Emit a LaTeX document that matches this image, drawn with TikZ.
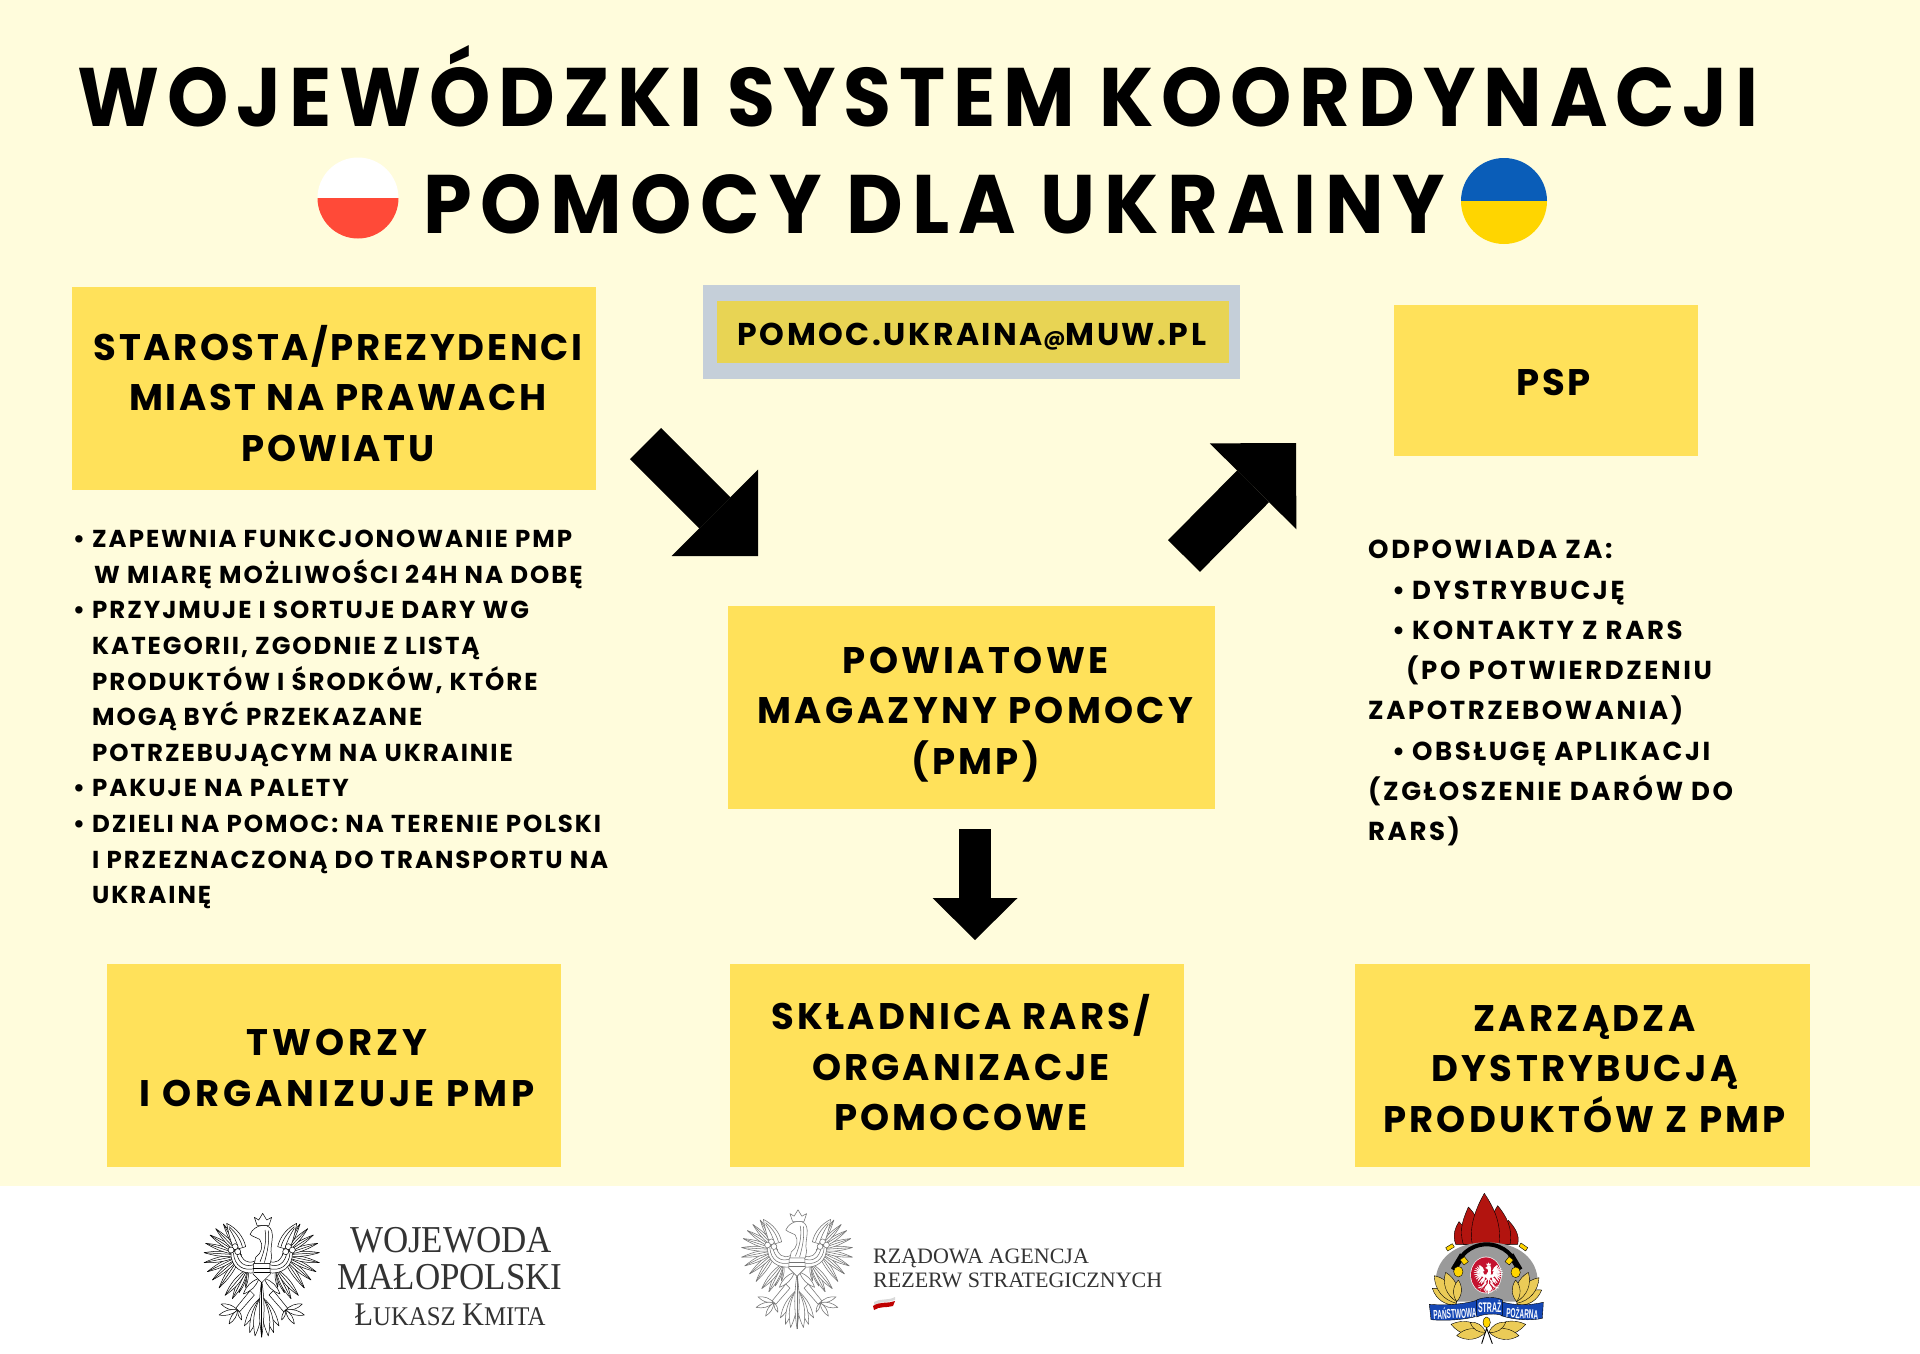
\documentclass[tikz,border=0pt]{standalone}
\usepackage{fontspec}
\usetikzlibrary{arrows.meta,calc}
\setmainfont{Poppins}
\newfontfamily\hdfont{Poppins}[LetterSpace=7]
\newfontfamily\ttlfont{Poppins}[FakeStretch=0.94]
\newfontfamily\serifcaps{Liberation Serif}[FakeStretch=0.92]
\newfontfamily\rarsfont{Liberation Serif}
\newfontfamily\ribbonfont{Liberation Sans}[FakeStretch=0.5]
\definecolor{paper}{HTML}{FFFCDC}
\definecolor{boxyellow}{HTML}{FFE15A}
\definecolor{mailyellow}{HTML}{E8D454}
\definecolor{mailgrey}{HTML}{C5CFD9}
\definecolor{flagred}{HTML}{FF4A38}
\definecolor{flagblue}{HTML}{0A5DB8}
\definecolor{flagyellow}{HTML}{FFD500}
\definecolor{leaf}{HTML}{EBCB57}
\definecolor{helmet}{HTML}{9A9A9A}
\definecolor{flame}{HTML}{B2140F}
\definecolor{ribbon}{HTML}{1547B5}
\definecolor{shield}{HTML}{C4122F}
\newcommand\eagleart[2]{%
 \begin{scope}[line width=#2,draw=#1,fill=white,line join=round]
  \foreach \sgn in {1,-1}{%
   \begin{scope}[xscale=\sgn]
    \foreach \tx/\ty in {-48/262,-68/278,-88/296,-110/286}{%
      \filldraw (-42,205) to[bend left=16] (\tx,\ty) to[bend left=16] (-42,205);
      \draw (-42,205) -- (\tx,\ty);}
    \foreach \tx/\ty in {-128/264,-148/240,-163/215,-173/188,-173/158,-168/130,-155/105,-138/86,-115/72}{%
      \filldraw (-62,165) to[bend left=13] (\tx,\ty) to[bend left=13] (-62,165);
      \draw (-62,165) -- (\tx,\ty);}
    \filldraw (-48,140) .. controls (-55,110) and (-75,85) .. (-105,70) .. controls (-100,100) and (-92,130) .. (-82,150) -- cycle;
    \draw (-58,140) .. controls (-65,115) and (-80,95) .. (-98,80);
    \draw (-70,145) .. controls (-75,125) and (-85,105) .. (-98,85);
    % sash
    \filldraw (-18,182) .. controls (-45,195) and (-58,180) .. (-68,152) -- (-92,156) .. controls (-95,200) and (-60,225) .. (-18,218) -- cycle;
    \draw (-18,192) .. controls (-50,205) and (-70,190) .. (-76,156);
    \draw (-18,205) .. controls (-55,215) and (-82,198) .. (-85,158);
    \filldraw (-80,140) circle[radius=9];
    \filldraw (-92,150) circle[radius=9];
    \filldraw (-72,155) circle[radius=9];
    % thigh and leg
    \filldraw (-8,235) to[bend left=25] (-55,282) to[bend left=25] (-8,235);
    \filldraw (-35,272) -- (-78,325) -- (-66,335) -- (-22,285) -- cycle;
    % talons
    \foreach \tx/\ty in {-122/312,-128/345,-98/372,-60/360}{%
      \filldraw (-72,330) to[bend left=25] (\tx,\ty) to[bend left=25] (-72,330);}
    % tail
    \foreach \tx/\ty in {-52/378,-36/398,-20/408}{%
      \filldraw (-6,295) to[bend left=18] (\tx,\ty) to[bend left=18] (-6,295);}
   \end{scope}}
  \filldraw (0,240) to[bend left=8] (0,412) to[bend left=8] (0,240);
  \draw (0,240) -- (0,412);
  % chest
  \filldraw (-24,190) -- (24,190) -- (26,222) -- (0,248) -- (-26,222) -- cycle;
  \draw (-25,205) -- (25,205) (-24,218) -- (24,218);
  % head and neck
  \filldraw (-35,103) .. controls (-28,88) and (-15,78) .. (2,76) .. controls (20,74) and (32,85) .. (32,105) .. controls (32,130) and (24,150) .. (30,170) -- (26,190) -- (-22,190) -- (-18,172) .. controls (0,160) and (6,135) .. (-6,118) .. controls (-14,112) and (-25,112) .. (-35,103) -- cycle;
  \draw (10,90) .. controls (16,120) and (8,155) .. (-5,185);
  \draw (20,92) .. controls (24,125) and (16,160) .. (8,188);
  % crown
  \filldraw (-14,76) -- (-22,52) -- (-9,60) -- (3,40) -- (15,60) -- (30,52) -- (22,76) -- cycle;
 \end{scope}}
\tikzset{
  boxfill/.style={fill=boxyellow,inner sep=0pt},
  boxtext/.style={align=center,inner sep=0pt,font=\hdfont\bfseries\fontsize{37}{50.5}\selectfont\addfontfeatures{LetterSpace=#1}},
  boxtext/.default=7,
  titlefont/.style={inner sep=0pt,anchor=base,font=\ttlfont\bfseries\fontsize{83}{90}\selectfont\addfontfeatures{LetterSpace=#1}},
  bodytext/.style={inner sep=0pt,anchor=north west,align=left},
  serifline/.style={inner sep=0pt,anchor=base,text=black!80},
  blockarrow/.style={draw=black,-{Triangle[length=#1,width=122pt,line width=0pt]}},
  ribbontext/.style={inner sep=0pt,text=white,font=\ribbonfont\bfseries\fontsize{13}{14}\selectfont},
  logoline/.style={draw=black,line width=.4pt,line join=round},
}
\newcommand\dotitem{\llap{\textbullet\kern7pt}}
\begin{document}
\begin{tikzpicture}[x=1pt,y=-1pt]
\useasboundingbox (0,0) rectangle (1920,1354);
\fill[paper] (0,0) rectangle (1920,1186);
\fill[white] (0,1186) rectangle (1920,1354);

% title
\node[titlefont=9.5] (titleA) at (918,126) {WOJEWÓDZKI SYSTEM KOORDYNACJI};
\node[titlefont=10.5] (titleB) at (934,233) {POMOCY DLA UKRAINY};
\begin{scope}
 \clip (358,198) circle[radius=40.5pt];
 \fill[white] (310,150) rectangle (406,198);
 \fill[flagred] (310,198) rectangle (406,248);
\end{scope}
\begin{scope}
 \clip (1504,201) circle[radius=43pt];
 \fill[flagblue] (1455,150) rectangle (1555,201);
 \fill[flagyellow] (1455,201) rectangle (1555,250);
\end{scope}

% boxes
\node[boxfill,minimum width=524pt,minimum height=203pt] (starbox) at (334,388.5) {};
\node[boxtext] (star) at (338,393.5) {STAROSTA/PREZYDENCI\\MIAST NA PRAWACH\\POWIATU};
\node[fill=mailgrey,minimum width=537pt,minimum height=94pt,inner sep=0pt] (mailouter) at (971.5,332) {};
\node[fill=mailyellow,minimum width=512pt,minimum height=62pt,inner sep=0pt] (mailbox) at (973,332) {};
\node[inner sep=0pt,font=\hdfont\bfseries\fontsize{31.5}{36}\selectfont\addfontfeatures{LetterSpace=8}] (mail) at (972,337) {POMOC.UKRAINA{\fontsize{21}{21}\selectfont @}MUW.PL};
\node[boxfill,minimum width=304pt,minimum height=151pt] (pspbox) at (1546,380) {};
\node[boxtext] (psp) at (1554,382.5) {PSP};
\node[boxfill,minimum width=487pt,minimum height=203pt] (pmpbox) at (971.5,707.5) {};
\node[boxtext=9] (pmp) at (975.5,714.5) {POWIATOWE\\MAGAZYNY POMOCY\\(PMP)};
\node[boxfill,minimum width=454pt,minimum height=203pt] (tworzybox) at (334,1065.5) {};
\node[boxtext=10.5] (tworzy) at (337,1068) {TWORZY\\I ORGANIZUJE PMP};
\node[boxfill,minimum width=454pt,minimum height=203pt] (rarsbox) at (957,1065.5) {};
\node[boxtext=8.5] (rars) at (961,1063) {SKŁADNICA RARS/\\ORGANIZACJE\\POMOCOWE};
\node[boxfill,minimum width=455pt,minimum height=203pt] (zarzbox) at (1582.5,1065.5) {};
\node[boxtext=9] (zarz) at (1584.5,1069) {ZARZĄDZA\\DYSTRYBUCJĄ\\PRODUKTÓW Z PMP};

% body text
\node[bodytext,font=\hdfont\bfseries\fontsize{24.5}{35.6}\selectfont\addfontfeatures{LetterSpace=8}] (left) at (92,530) {%
\dotitem ZAPEWNIA FUNKCJONOWANIE PMP\\
\kern2pt W MIARĘ MOŻLIWOŚCI 24H NA DOBĘ\\
\dotitem PRZYJMUJE I SORTUJE DARY WG\\
KATEGORII, ZGODNIE Z LISTĄ\\
PRODUKTÓW I ŚRODKÓW, KTÓRE\\
MOGĄ BYĆ PRZEKAZANE\\
POTRZEBUJĄCYM NA UKRAINIE\\
\dotitem PAKUJE NA PALETY\\
\dotitem DZIELI NA POMOC: NA TERENIE POLSKI\\
I PRZEZNACZONĄ DO TRANSPORTU NA\\
UKRAINĘ};
\node[bodytext,font=\hdfont\bfseries\fontsize{26}{40.3}\selectfont\addfontfeatures{LetterSpace=10}] (right) at (1368,540) {%
ODPOWIADA ZA:\\
\kern44pt\dotitem DYSTRYBUCJĘ\\
\kern44pt\dotitem KONTAKTY Z RARS\\
\kern38pt(PO POTWIERDZENIU\\
ZAPOTRZEBOWANIA)\\
\kern44pt\dotitem OBSŁUGĘ APLIKACJI\\
(ZGŁOSZENIE DARÓW DO\\
RARS)};

% arrows
\coordinate (a1s) at (645.5,443.5);
\coordinate (a1e) at (758,556);
\coordinate (a2s) at (1184,556);
\coordinate (a2e) at (1296,443);
\coordinate (a3s) at (975,829);
\coordinate (a3e) at (975,940);
\draw[blockarrow=61pt,line width=44pt] (a1s) -- (a1e);
\draw[blockarrow=61pt,line width=45pt] (a2s) -- (a2e);
\draw[draw=black,line width=32pt,-{Triangle[length=42pt,width=85pt,line width=0pt]}] (a3s) -- (a3e);

% logo 1
\begin{scope}[shift={(261.7,1200)},x=.3333pt,y=-.3333pt]
 \eagleart{black}{.5pt}
\end{scope}
\node[serifline,font=\serifcaps\fontsize{38}{38}\selectfont] (wojA) at (451,1252) {WOJEWODA};
\node[serifline,font=\serifcaps\fontsize{38}{38}\selectfont] (wojB) at (450,1289) {MAŁOPOLSKI};
\node[serifline,font=\serifcaps\fontsize{33}{33}\selectfont] (wojC) at (450,1325) {Ł\fontsize{27}{27}\selectfont UKASZ \fontsize{33}{33}\selectfont K\fontsize{27}{27}\selectfont MITA};

% logo 2
\begin{scope}[shift={(797,1197)},x=.32pt,y=-.32pt]
 \eagleart{black!55}{.55pt}
\end{scope}
\node[inner sep=0pt,anchor=base west,text=black!80,font=\rarsfont\fontsize{22}{22}\selectfont] (rarsA) at (873,1263) {RZĄDOWA AGENCJA};
\node[inner sep=0pt,anchor=base west,text=black!80,font=\rarsfont\fontsize{22}{22}\selectfont] (rarsB) at (873,1287) {REZERW STRATEGICZNYCH};
\fill[black!15] (874,1302) .. controls (880,1298) and (888,1301) .. (895,1297) -- (895,1300) .. controls (888,1303) and (880,1301) .. (874,1305) -- cycle;
\fill[red!75!black] (873,1306) .. controls (880,1301) and (888,1304) .. (895,1301) -- (893,1306) .. controls (886,1308) and (880,1306) .. (874,1310) -- cycle;

% logo 3
\begin{scope}[shift={(1415,1185)},x=.3333pt,y=-.3333pt]
 % flames
 \filldraw[fill=flame,logoline] (122,178) .. controls (112,150) and (120,128) .. (132,110) .. controls (150,130) and (172,150) .. (172,178) -- cycle;
 \filldraw[fill=flame,logoline] (308,178) .. controls (315,150) and (300,128) .. (280,106) .. controls (268,130) and (250,150) .. (250,178) -- cycle;
 \filldraw[fill=flame,logoline] (145,178) .. controls (130,130) and (148,95) .. (160,66) .. controls (180,85) and (205,125) .. (205,178) -- cycle;
 \filldraw[fill=flame,logoline] (285,178) .. controls (295,130) and (272,90) .. (248,62) .. controls (230,90) and (215,130) .. (220,178) -- cycle;
 \filldraw[fill=flame,logoline] (172,178) .. controls (160,120) and (188,60) .. (208,25) .. controls (228,55) and (262,110) .. (252,178) -- cycle;
 % helmet
 \fill[helmet] (62,290) .. controls (62,225) and (115,172) .. (215,172) .. controls (315,172) and (368,225) .. (368,290) -- (315,350) -- (115,350) -- cycle;
 \draw[black,line width=4pt] (122,260) .. controls (125,215) and (165,178) .. (215,178) .. controls (265,178) and (305,215) .. (308,260);
 \fill[black] (108,250) -- (135,205) -- (150,215) -- (122,260) -- cycle;
 \fill[black] (322,250) -- (295,205) -- (280,215) -- (308,260) -- cycle;
 \filldraw[fill=flagyellow,logoline] (135,225) -- (148,215) -- (160,230) -- (147,240) -- cycle;
 \filldraw[fill=flagyellow,logoline] (295,225) -- (282,215) -- (270,230) -- (283,240) -- cycle;
 \filldraw[fill=flagyellow,logoline] (92,188) -- (112,176) -- (118,186) -- (98,198) -- cycle;
 \filldraw[fill=flagyellow,logoline] (338,188) -- (318,174) -- (312,184) -- (332,198) -- cycle;
 % leaves
 \foreach \ax/\ay/\bx/\by in {125/360/52/310,125/355/58/272,125/350/92/262,125/350/130/285,
   305/360/380/315,305/355/372/278,305/350/340/262,305/350/302/285,
   212/442/108/418,212/442/125/452,212/442/165/412,222/442/332/418,222/442/312/452,222/442/272/412}{%
   \filldraw[fill=leaf,logoline] (\ax,\ay) to[bend left=38] (\bx,\by) to[bend left=38] (\ax,\ay);}
 \filldraw[fill=flagyellow,logoline] (130,260) ellipse (14 and 16);
 \filldraw[fill=flagyellow,logoline] (302,262) ellipse (14 and 16);
 % badge
 \fill[white] (213,270) ellipse (47 and 55);
 \fill[shield] (213,270) ellipse (45 and 53);
 \begin{scope}[shift={(220,223)},x=.0833pt,y=-.0833pt]
  \eagleart{white}{.1pt}
 \end{scope}
 % stem and acorns
 \draw[black,line width=.9pt] (215,430) -- (200,476) (215,430) -- (232,476);
 \filldraw[fill=flagyellow,logoline] (215,412) ellipse (11 and 16);
 % ribbon
 \filldraw[fill=ribbon,logoline] (43,358) .. controls (90,362) and (150,358) .. (192,344) -- (192,392) .. controls (150,405) and (90,408) .. (48,404) -- cycle;
 \filldraw[fill=ribbon,logoline] (385,352) .. controls (340,362) and (300,362) .. (258,350) -- (258,392) .. controls (300,405) and (345,408) .. (382,400) -- cycle;
 \filldraw[fill=ribbon,logoline] (185,345) .. controls (205,335) and (245,335) .. (262,345) -- (262,392) .. controls (245,384) and (205,386) .. (185,396) -- cycle;
 \node[ribbontext,rotate=3] (psA) at (120,383) {PAŃSTWOWA};
 \node[ribbontext,font=\ribbonfont\bfseries\fontsize{14}{15}\selectfont] (psB) at (224,365) {STRAŻ};
 \node[ribbontext,rotate=-3] (psC) at (322,384) {POŻARNA};
\end{scope}
\end{tikzpicture}
\end{document}
